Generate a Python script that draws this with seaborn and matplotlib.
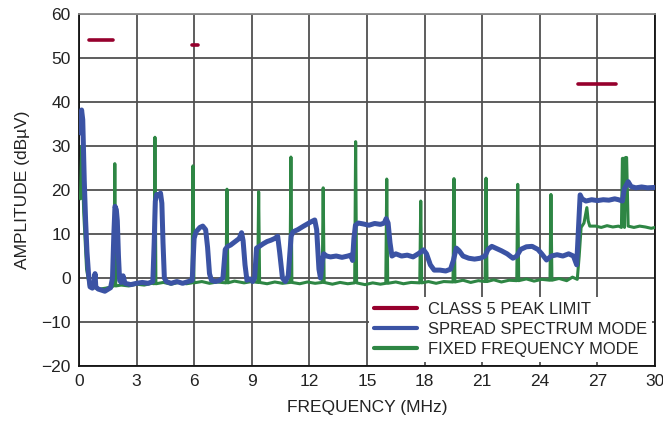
import seaborn as sns
import pandas as pd
import matplotlib.pyplot as plt

# Límites clase 5 (MHz, dBµV)
limit_segments = [
    ([0.54, 1.79], [54, 54]),
    ([5.90, 6.18], [53, 53]),
    ([26.0, 27.97], [44, 44]),
]

# Modo espectro ensanchado (frecuencia MHz, amplitud dBµV)
spread_mhz = [0.08, 0.14, 0.2, 0.28, 0.35, 0.42, 0.5, 0.58, 0.7, 0.8, 0.84, 0.88, 1.0, 1.2, 1.35, 1.5, 1.65,
              1.75, 1.82, 1.88, 1.95, 2.0, 2.06, 2.12, 2.2, 2.3, 2.4, 2.7, 3.0, 3.3, 3.6, 3.85, 3.92, 3.98,
              4.05, 4.15, 4.25, 4.32, 4.38, 4.45, 4.55, 4.8, 5.1, 5.4, 5.7, 5.9, 6.0, 6.1, 6.3, 6.45, 6.6,
              6.7, 6.8, 6.9, 7.1, 7.3, 7.5, 7.62, 7.75, 7.9, 8.05, 8.2, 8.35, 8.47, 8.55, 8.65, 8.75, 8.9,
              9.05, 9.15, 9.25, 9.4, 9.6, 9.8, 10.0, 10.2, 10.35, 10.45, 10.6, 10.75, 10.9, 11.05, 11.15,
              11.4, 11.7, 11.9, 12.1, 12.28, 12.38, 12.5, 12.58, 12.68, 12.75, 12.9, 13.1, 13.4, 13.7,
              14.0, 14.15, 14.25, 14.32, 14.4, 14.55, 14.8, 15.1, 15.4, 15.7, 15.9, 16.0, 16.1, 16.2,
              16.3, 16.5, 16.8, 17.1, 17.4, 17.7, 17.95, 18.1, 18.3, 18.5, 18.8, 19.1, 19.35, 19.5,
              19.65, 19.8, 20.0, 20.3, 20.6, 20.9, 21.15, 21.3, 21.5, 21.7, 22.0, 22.3, 22.6, 22.8,
              23.0, 23.3, 23.6, 23.9, 24.1, 24.35, 24.6, 24.9, 25.2, 25.5, 25.75, 25.92, 26.0, 26.1,
              26.2, 26.4, 26.7, 27.0, 27.3, 27.6, 27.9, 28.1, 28.3, 28.4, 28.6, 28.75, 29.0, 29.3,
              29.6, 30.0]
spread_db = [33, 38.2, 36, 22, 13, 6, 1, -2, -2.3, -1, 1, -2, -2.5, -2.8, -3.0, -2.6, -2.2,
             0, 10, 16.3, 15.5, 13, 5, -0.5, -1.0, 0.5, -1.2, -1.5, -1.2, -1.0, -1.2, -0.8, 8, 17.5,
             19, 18.8, 19.3, 17, 8, 0, -0.8, -1.2, -0.8, -1.2, -0.8, -0.5, 9, 10.5, 11.5, 11.8, 11,
             7, 1, -0.5, -0.8, -0.6, 0, 6.5, 7.2, 7.5, 8, 8.5, 9, 10.3, 8.5, 3, -0.5, -0.2,
             -0.8, 0, 6.8, 7.2, 7.8, 8.3, 8.6, 9, 9.5, 6, 0, -0.8, 0.5, 9.5, 10.5,
             11, 11.8, 12.3, 12.8, 13.2, 11, 2, 0, 4, 5.5, 5, 4.8, 5, 4.7,
             5, 5.2, 4, 9, 12, 12.5, 12.3, 12, 12.4, 12.2, 12.5, 13.5, 12.5, 8,
             5, 5.5, 5.0, 5.2, 4.8, 5.6, 6.4, 5.5, 3, 1.8, 1.8, 1.6, 2, 4,
             6.8, 6.2, 5, 4.5, 4.3, 4.5, 5, 6.5, 7.2, 6.8, 6.2, 5.5, 4.5, 5,
             6.5, 7.1, 7.2, 6.5, 5.5, 4.1, 5, 5.3, 5, 5.5, 5, 3, 10, 18.9,
             18, 17.5, 17.8, 17.6, 17.8, 17.7, 18, 17.8, 17.5, 20.3, 21.9, 20.8, 20.5, 20.7,
             20.5, 20.6]

# Modo frecuencia fija (frecuencia MHz, amplitud dBµV)
fixed_mhz = [0.08, 0.15, 0.25, 0.4, 0.55, 0.8, 1.1, 1.4, 1.7, 1.82, 1.87, 1.92, 2.2, 2.6, 3.0, 3.4,
             3.8, 3.91, 3.96, 4.01, 4.4, 4.8, 5.2, 5.6, 5.89, 5.94, 5.99, 6.4, 6.8, 7.2, 7.66, 7.71,
             7.76, 8.1, 8.6, 9.0, 9.31, 9.36, 9.41, 9.8, 10.2, 10.6, 10.99, 11.04, 11.09, 11.5, 11.9,
             12.3, 12.67, 12.72, 12.77, 13.2, 13.6, 14.0, 14.36, 14.41, 14.46, 14.9, 15.3, 15.7,
             15.98, 16.03, 16.08, 16.5, 16.9, 17.3, 17.75, 17.8, 17.85, 18.2, 18.6, 19.0, 19.48,
             19.53, 19.58, 20.0, 20.4, 20.8, 21.15, 21.2, 21.25, 21.6, 22.0, 22.4, 22.8, 22.85,
             22.9, 23.3, 23.7, 24.1, 24.53, 24.58, 24.63, 25.0, 25.4, 25.7, 25.95, 26.05, 26.15,
             26.3, 26.45, 26.52, 26.6, 26.9, 27.2, 27.5, 27.8, 28.1, 28.25, 28.3, 28.36, 28.41,
             28.46, 28.52, 28.6, 28.9, 29.2, 29.5, 29.8, 30.0]
fixed_db = [18, 30, 15, 2, -1.8, -2.2, -2.5, -2.3, -2.0, -1.8, 26, -1.8, -1.6, -1.8, -1.4, -1.6,
            -1.2, -1.3, 32, -1.3, -1.0, -1.4, -1.0, -1.3, -1.1, 25.5, -1.1, -0.8, -1.2, -0.9, -1.1, 20.2,
            -1.1, -0.7, -1.1, -0.8, -1.0, 19.6, -1.0, -1.3, -0.9, -1.2, -1.0, 27.5, -1.0, -1.3, -0.9,
            -1.2, -1.0, 20.5, -1.0, -1.4, -1.0, -1.3, -1.1, 31, -1.1, -1.5, -1.1, -1.4,
            -1.2, 22.5, -1.2, -0.9, -1.3, -1.0, -1.1, 17.5, -1.1, -0.8, -1.2, -0.8, -0.9,
            22.6, -0.9, -0.5, -1.0, -0.6, -0.8, 22.7, -0.8, -0.4, -0.9, -0.5, -0.6, 21.3,
            -0.6, -0.2, -0.7, -0.3, -0.5, 19, -0.5, -0.1, -0.6, 0.2, -0.3, 5, 11.5,
            12.5, 16, 13, 11.8, 11.8, 11.5, 11.9, 11.6, 11.8, 11.5, 27.2, 27.2, 11.5,
            27.4, 27.4, 11.8, 11.5, 11.8, 11.6, 11.3, 11.5]

rojo = '#96002D'
azul = '#3B53A4'
verde = '#2E8644'


def main():
    sns.set_style('white')
    plt.rcParams['font.family'] = ['Liberation Sans', 'DejaVu Sans']

    df_spread = pd.DataFrame({'f': spread_mhz, 'a': spread_db})
    df_fixed = pd.DataFrame({'f': fixed_mhz, 'a': fixed_db})

    fig = plt.figure(figsize=(6.63, 4.21), dpi=100)
    ax = fig.add_axes([0.119, 0.1306, 0.869, 0.836])

    sns.lineplot(data=df_fixed, x='f', y='a', color=verde, lw=2.2, sort=False, estimator=None,
                 ax=ax, label='FIXED FREQUENCY MODE', zorder=3)
    sns.lineplot(data=df_spread, x='f', y='a', color=azul, lw=3.6, sort=False, estimator=None,
                 ax=ax, label='SPREAD SPECTRUM MODE', zorder=4)
    for i, (xs, ys) in enumerate(limit_segments):
        seg = pd.DataFrame({'f': xs, 'a': ys})
        sns.lineplot(data=seg, x='f', y='a', color=rojo, lw=2.6, sort=False, estimator=None,
                     ax=ax, label='CLASS 5 PEAK LIMIT' if i == 0 else None, zorder=5)

    ax.set_xlim(0, 30)
    ax.set_ylim(-20, 60)
    ax.set_xticks(range(0, 31, 3))
    ax.set_yticks(range(-20, 61, 10))
    ax.set_yticklabels([str(v).replace('-', '\u2212') for v in range(-20, 61, 10)])
    ax.grid(True, color='#505050', lw=1.3)
    ax.tick_params(length=0, pad=6, labelsize=12.5, colors='#222222')
    for s in ax.spines.values():
        s.set_color('#111111')
        s.set_linewidth(1.3)
    ax.spines['top'].set_color('#8a8a8a')

    ax.set_xlabel('FREQUENCY (MHz)', fontsize=12.5, color='#222222', labelpad=8)
    ax.set_ylabel('AMPLITUDE (dBµV)', fontsize=12.5, color='#222222', labelpad=8)

    h, l = ax.get_legend_handles_labels()
    orden = [l.index('CLASS 5 PEAK LIMIT'), l.index('SPREAD SPECTRUM MODE'), l.index('FIXED FREQUENCY MODE')]
    leg = ax.legend([h[i] for i in orden], [l[i] for i in orden], loc='lower right',
                    bbox_to_anchor=(0.995, 0.012),
                    fontsize=11.9, frameon=True, facecolor='white', edgecolor='none', framealpha=1,
                    fancybox=False, handlelength=2.6, handletextpad=0.7, labelspacing=0.3,
                    borderpad=0.3, borderaxespad=0.0)
    for line in leg.get_lines():
        line.set_linewidth(3)
    leg.set_zorder(10)

    plt.savefig('out.png', dpi=100)


if __name__ == "__main__":
    main()
